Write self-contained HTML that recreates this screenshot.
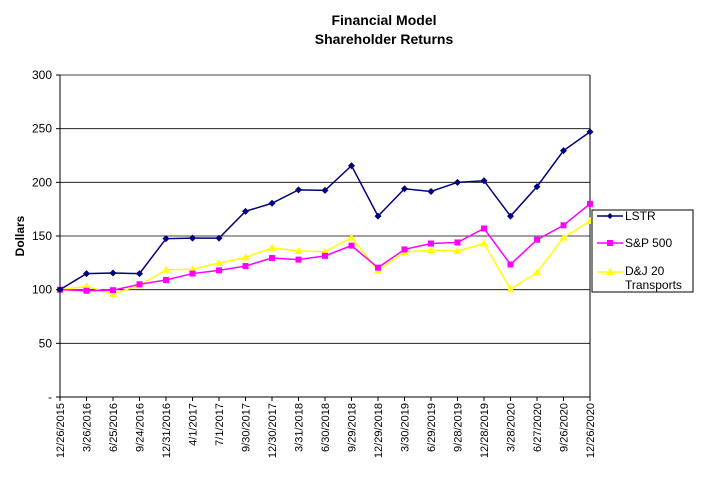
<!DOCTYPE html>
<html><head><meta charset="utf-8"><style>
body{margin:0;background:#fff;font-family:"Liberation Sans",Arial,sans-serif}
svg text{font-family:"Liberation Sans",Arial,sans-serif}
</style></head><body>
<svg id="c" width="718" height="487" xmlns="http://www.w3.org/2000/svg">
<text x="384" y="25" text-anchor="middle" font-size="14" font-weight="bold">Financial Model</text>
<text x="384" y="44" text-anchor="middle" font-size="14" font-weight="bold">Shareholder Returns</text>
<text transform="translate(24,236) rotate(-90)" text-anchor="middle" font-size="12" font-weight="bold">Dollars</text>
<g id="grid"></g><g id="series"></g>
<g>
<rect x="592" y="210" width="101" height="82" fill="#fff" stroke="#000" stroke-width="1"/>
<g><line x1="597" y1="216" x2="623" y2="216" stroke="#000080" stroke-width="1.5"/><path d="M610 213 L613 216 L610 219 L607 216Z" fill="#000080"/><text x="625" y="220" font-size="12">LSTR</text></g>
<g><line x1="597" y1="243" x2="623" y2="243" stroke="#ff00ff" stroke-width="1.5"/><rect x="607" y="240" width="6" height="6" fill="#ff00ff"/><text x="625" y="247" font-size="12">S&amp;P 500</text></g>
<g><line x1="597" y1="272" x2="623" y2="272" stroke="#ffff00" stroke-width="1.5"/><path d="M610 268 L614 275 L606 275Z" fill="#ffff00"/><text x="625" y="275" font-size="12">D&amp;J 20</text><text x="625" y="289" font-size="12">Transports</text></g>
</g>
</svg>
<script>
const categories=["12/26/2015","3/26/2016","6/25/2016","9/24/2016","12/31/2016","4/1/2017","7/1/2017","9/30/2017","12/30/2017","3/31/2018","6/30/2018","9/29/2018","12/29/2018","3/30/2019","6/29/2019","9/28/2019","12/28/2019","3/28/2020","6/27/2020","9/26/2020","12/26/2020"];
const lstr=[100,115,115.5,115,147.5,148,148,173,180.5,193,192.5,215.5,168.5,194,191.5,200,201.5,168.5,196,229.5,247];
const sp500=[100,99,99.5,105,109,115,118,122,129.5,128,131.5,141,120.5,137.5,143,144,157,123.5,146.5,160,180];
const dj20=[100,103,96,104,118.5,119,125,130,139,136,135.5,148.5,118,135,137,136,143,100.5,116,148.5,164];
const yTicks=[0,50,100,150,200,250,300];
const yTickLabels=["-","50","100","150","200","250","300"];
const NS="http://www.w3.org/2000/svg";
const X0=60,X1=590,Y0=397,Y1=75;
const xs=i=>X0+i*(X1-X0)/(categories.length-1);
const ys=v=>Y0-v/300*(Y0-Y1);
function mk(t,a,p){const e=document.createElementNS(NS,t);for(const k in a)e.setAttribute(k,a[k]);p.appendChild(e);return e;}
const g=document.getElementById('grid'),s=document.getElementById('series');
yTicks.forEach((v,i)=>{
 const l=mk('line',{x1:X0,x2:X1,y1:ys(v),y2:ys(v),stroke:'#000','stroke-width':v===0?1:0.8},g);
 
 
 mk('line',{x1:X0-4,x2:X0,y1:ys(v),y2:ys(v),stroke:'#000'},g);
 const t=mk('text',{x:X0-8,y:ys(v)+4,'text-anchor':'end','font-size':12},g);t.textContent=yTickLabels[i];
 
 
});
const ax=mk('line',{x1:X0,x2:X0,y1:Y1,y2:Y0,stroke:'#000'},g);


mk('line',{x1:X1,x2:X1,y1:Y1,y2:Y0,stroke:'#000'},g);
categories.forEach((c,i)=>{
 mk('line',{x1:xs(i),x2:xs(i),y1:Y0,y2:Y0+4,stroke:'#000'},g);
 const t=mk('text',{transform:`translate(${xs(i)+4},${Y0+6}) rotate(-90)`,'text-anchor':'end','font-size':11},g);t.textContent=c;
 
 
});
function series(data,color,shape,name){
 const p=mk('polyline',{points:data.map((v,i)=>xs(i)+','+ys(v)).join(' '),fill:'none',stroke:color,'stroke-width':1.5},s);
 
 
 data.forEach((v,i)=>{const x=xs(i),y=ys(v);let m;
  if(shape==='d')m=mk('path',{d:`M${x} ${y-3.5}L${x+3.5} ${y}L${x} ${y+3.5}L${x-3.5} ${y}Z`,fill:color},s);
  else if(shape==='s')m=mk('rect',{x:x-3,y:y-3,width:6,height:6,fill:color},s);
  else m=mk('path',{d:`M${x} ${y-4}L${x+4} ${y+3}L${x-4} ${y+3}Z`,fill:color},s);
  
  
 });
}
series(dj20,'#ffff00','t','dj20');
series(sp500,'#ff00ff','s','sp500');
series(lstr,'#000080','d','lstr');
</script>
</body></html>
